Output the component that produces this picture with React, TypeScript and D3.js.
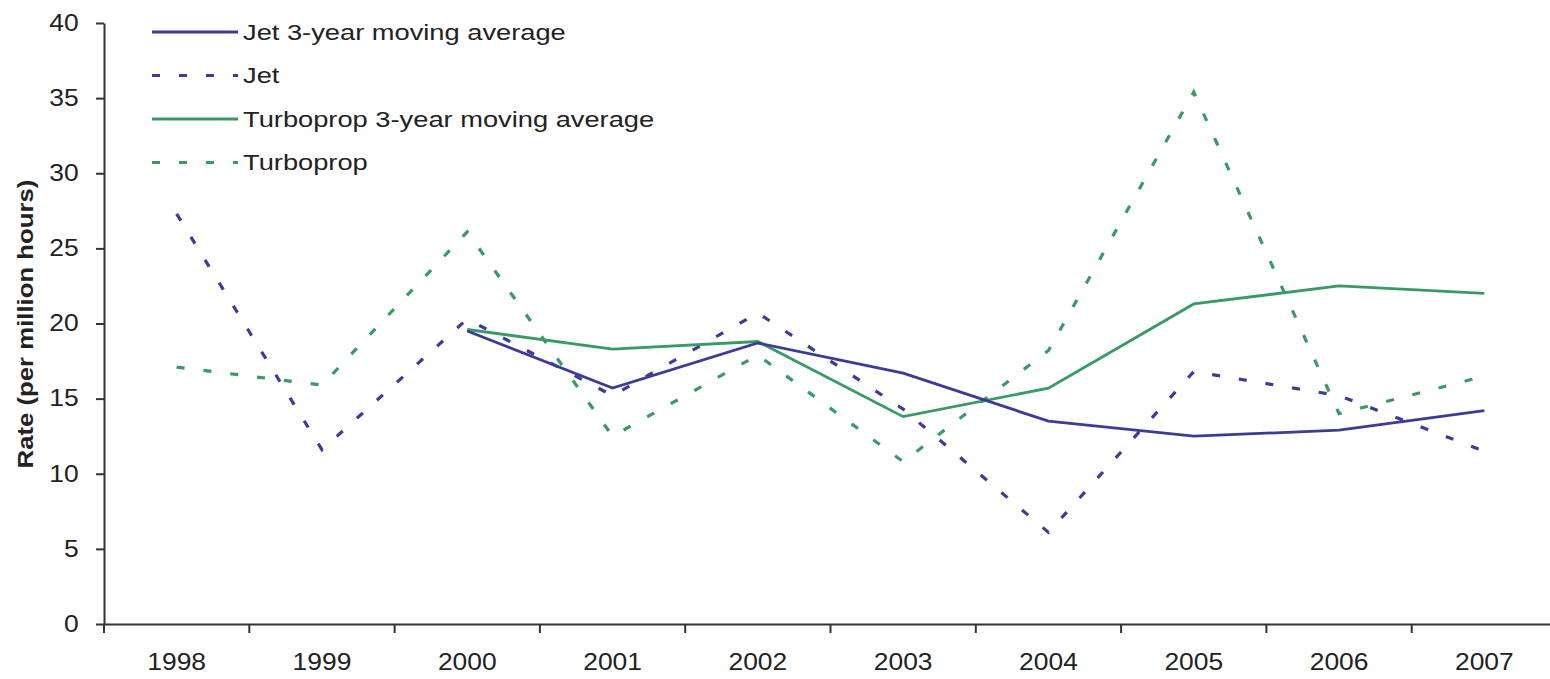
import { useEffect, useRef } from "react";
import * as d3 from "d3";

const years = ["1998", "1999", "2000", "2001", "2002", "2003", "2004", "2005", "2006", "2007"];
const jet = [27.3, 11.6, 20.3, 15.2, 20.7, 14.3, 6.1, 16.8, 15.2, 11.5];
const jetAvg = [null, null, 19.5, 15.7, 18.7, 16.7, 13.5, 12.5, 12.9, 14.2];
const turbo = [17.1, 15.9, 26.1, 12.5, 17.9, 10.8, 18.2, 35.4, 14.0, 16.5];
const turboAvg = [null, null, 19.6, 18.3, 18.8, 13.8, 15.7, 21.3, 22.5, 22.0];
const yTicks = [0, 5, 10, 15, 20, 25, 30, 35, 40];

const BLUE = "#3d3b98";
const GREEN = "#3a9a66";

const series = [
  { name: "Jet 3-year moving average", values: jetAvg, color: BLUE, dashed: false },
  { name: "Jet", values: jet, color: BLUE, dashed: true },
  { name: "Turboprop 3-year moving average", values: turboAvg, color: GREEN, dashed: false },
  { name: "Turboprop", values: turbo, color: GREEN, dashed: true },
];

const W = 1550;
const H = 679;

const App = () => {
  const ref = useRef<SVGSVGElement>(null);

  useEffect(() => {
    const svg = d3.select(ref.current);
    svg.selectAll("*").remove();

    const x = d3.scaleBand().domain(years).range([104, 1557]);
    const y = d3.scaleLinear().domain([0, 40]).range([624, 23]);
    const cx = (d: string) => (x(d) as number) + x.bandwidth() / 2;

    // y axis
    const yAxis = svg
      .append("g")
      .attr("transform", "translate(104,0)")
      .call(d3.axisLeft(y).tickValues(yTicks).tickSize(8).tickSizeOuter(0).tickPadding(14));
    yAxis.select(".domain").attr("stroke", "#333").attr("stroke-width", 2);
    yAxis.selectAll(".tick line").attr("stroke", "#333").attr("stroke-width", 2);
    yAxis
      .selectAll(".tick text")
      .attr("font-family", "Liberation Sans, Arial, sans-serif")
      .attr("font-size", 23)
      .attr("fill", "#222")
      .attr("transform", "scale(1.15,1)");

    // x axis
    const xAxis = svg
      .append("g")
      .attr("transform", "translate(0,624)")
      .call(d3.axisBottom(x).tickSize(0).tickPadding(0));
    xAxis.select(".domain").attr("stroke", "#333").attr("stroke-width", 2);
    xAxis
      .selectAll(".tick text")
      .attr("font-family", "Liberation Sans, Arial, sans-serif")
      .attr("font-size", 24)
      .attr("fill", "#222")
      .attr("dy", "0")
      .attr("y", 46)
      .attr("transform", "scale(1.1,1)");
    // tick marks between categories
    xAxis
      .selectAll("line.sep")
      .data(years)
      .enter()
      .append("line")
      .attr("class", "sep")
      .attr("x1", (d) => x(d) as number)
      .attr("x2", (d) => x(d) as number)
      .attr("y1", 0)
      .attr("y2", 9)
      .attr("stroke", "#333")
      .attr("stroke-width", 2);

    // axis title
    svg
      .append("text")
      .attr("transform", "translate(33,324) rotate(-90) scale(1.17,1)")
      .attr("text-anchor", "middle")
      .attr("font-family", "Liberation Sans, Arial, sans-serif")
      .attr("font-size", 22)
      .attr("font-weight", "bold")
      .attr("fill", "#222")
      .text("Rate (per million hours)");

    // lines
    const line = d3
      .line<number | null>()
      .defined((d) => d !== null)
      .x((_, i) => cx(years[i]))
      .y((d) => y(d as number));

    const order = [series[3], series[1], series[2], series[0]];
    order.forEach((s) => {
      svg
        .append("path")
        .datum(s.values)
        .attr("fill", "none")
        .attr("stroke", s.color)
        .attr("stroke-width", s.dashed ? 3.2 : 2.8)
        .attr("stroke-dasharray", s.dashed ? "8 19" : null)
        .attr("d", line);
    });

    // legend
    const legend = svg.append("g");
    series.forEach((s, i) => {
      const ly = 32 + i * 43.5;
      legend
        .append("line")
        .attr("x1", 152)
        .attr("x2", 238)
        .attr("y1", ly)
        .attr("y2", ly)
        .attr("stroke", s.color)
        .attr("stroke-width", s.dashed ? 3.2 : 2.8)
        .attr("stroke-dasharray", s.dashed ? "8 19" : null);
      legend
        .append("text")
        .attr("transform", `translate(243,${ly}) scale(1.24,1)`)
        .attr("dy", "0.36em")
        .attr("font-family", "Liberation Sans, Arial, sans-serif")
        .attr("font-size", 22)
        .attr("fill", "#222")
        .text(s.name);
    });
  }, []);

  return (
    <svg
      ref={ref}
      width={W}
      height={H}
      style={{ position: "absolute", left: 0, top: 0, background: "#fff", overflow: "hidden" }}
    />
  );
};

export default App;
